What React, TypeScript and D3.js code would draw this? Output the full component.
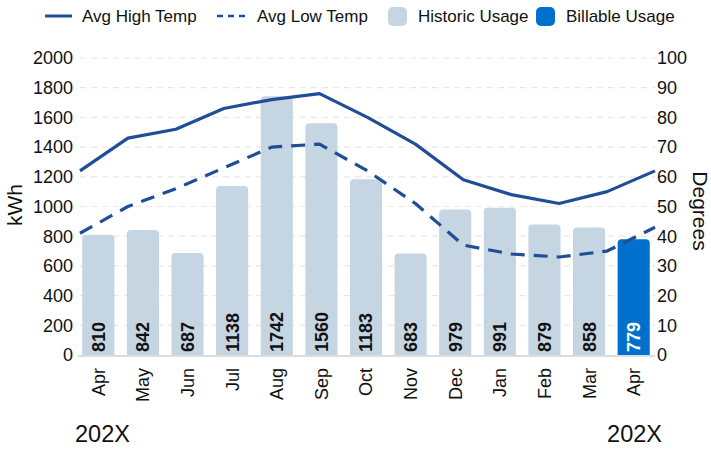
import React from 'react';
import * as d3 from 'd3';

const months = ['Apr', 'May', 'Jun', 'Jul', 'Aug', 'Sep', 'Oct', 'Nov', 'Dec', 'Jan', 'Feb', 'Mar', 'Apr'];
const usage = [810, 842, 687, 1138, 1742, 1560, 1183, 683, 979, 991, 879, 858, 779];
const highTemp = [62, 73, 76, 83, 86, 88, 80, 71, 59, 54, 51, 55, 62];
const lowTemp = [41, 50, 56, 63, 70, 71, 62, 51, 37, 34, 33, 35, 43];
const kwhTicks = [0, 200, 400, 600, 800, 1000, 1200, 1400, 1600, 1800, 2000];
const degTicks = [0, 10, 20, 30, 40, 50, 60, 70, 80, 90, 100];
const yearLabels = ['202X', '202X'];

const W = 711;
const H = 449;
const FONT = '"Liberation Sans", Arial, sans-serif';
const LINE = '#1f4e96';
const HIST = '#c6d5e2';
const BILL = '#0070cc';

// rounded top corners only
function topRoundedRect(x: number, y: number, w: number, h: number, r: number) {
  const rr = Math.min(r, h / 2, w / 2);
  return `M${x},${y + h}V${y + rr}Q${x},${y} ${x + rr},${y}H${x + w - rr}Q${x + w},${y} ${x + w},${y + rr}V${y + h}Z`;
}

const App: React.FC = () => {
  const left = 80;
  const right = 655;
  const top = 58;
  const bottom = 355;

  const yKwh = d3.scaleLinear().domain([0, 2000]).range([bottom, top]);
  const yDeg = d3.scaleLinear().domain([0, 100]).range([bottom, top]);
  const xBand = d3.scaleBand<number>()
    .domain(months.map((_, i) => i))
    .range([76, 656])
    .paddingInner(0.28)
    .paddingOuter(0.14);
  const xLine = d3.scaleLinear().domain([0, months.length - 1]).range([left, right]);

  const line = d3.line<number>()
    .x((_, i) => xLine(i))
    .y(d => yDeg(d));

  const last = usage.length - 1;

  return (
    <svg width={W} height={H} style={{ position: 'absolute', left: 0, top: 0, fontFamily: FONT }}>
      {/* gridlines */}
      {kwhTicks.slice(1).map(t => (
        <line key={t} x1={left} x2={right} y1={yKwh(t)} y2={yKwh(t)}
          stroke="#e8e8e8" strokeWidth={1.2} strokeDasharray="6,5" />
      ))}

      {/* bars */}
      {usage.map((v, i) => {
        const x = xBand(i) || 0;
        const w = xBand.bandwidth();
        const y = yKwh(v);
        return (
          <path key={i} d={topRoundedRect(x, y, w, bottom - y, 4)} fill={i === last ? BILL : HIST} />
        );
      })}

      {/* bar value labels */}
      {usage.map((v, i) => {
        const cx = (xBand(i) || 0) + xBand.bandwidth() / 2;
        const ty = bottom - 3;
        return (
          <text key={i} x={cx} y={ty} transform={`rotate(-90, ${cx}, ${ty})`}
            dy="0.36em" fontSize={18} fontWeight="bold"
            fill={i === last ? '#fff' : '#111'}>{v}</text>
        );
      })}

      {/* baseline */}
      <line x1={left - 2} x2={right} y1={bottom + 1} y2={bottom + 1} stroke="#dcdcdc" strokeWidth={2} />

      {/* temperature lines */}
      <path d={line(highTemp) || ''} fill="none" stroke={LINE} strokeWidth={3.2} strokeLinejoin="round" />
      <path d={line(lowTemp) || ''} fill="none" stroke={LINE} strokeWidth={3.2} strokeDasharray="14,9" strokeLinejoin="round" />

      {/* left axis */}
      {kwhTicks.map(t => (
        <text key={t} x={73} y={yKwh(t)} dy="0.35em" textAnchor="end" fontSize={18} fill="#111">{t}</text>
      ))}
      {/* right axis */}
      {degTicks.map(t => (
        <text key={t} x={657} y={yDeg(t)} dy="0.35em" textAnchor="start" fontSize={18} fill="#111">{t}</text>
      ))}

      {/* axis titles */}
      <text x={15} y={205} transform="rotate(-90, 15, 205)" textAnchor="middle" dy="0.35em" fontSize={21} fill="#111">kWh</text>
      <text x={700} y={211} transform="rotate(90, 700, 211)" textAnchor="middle" dy="0.35em" fontSize={21} fill="#111">Degrees</text>

      {/* month labels */}
      {months.map((m, i) => {
        const cx = (xBand(i) || 0) + xBand.bandwidth() / 2;
        const ty = 368;
        return (
          <text key={i} x={cx} y={ty} transform={`rotate(-90, ${cx}, ${ty})`}
            dy="0.36em" textAnchor="end" fontSize={18} fill="#111">{m}</text>
        );
      })}

      {/* years */}
      <text x={75} y={442} fontSize={23.5} fill="#111">{yearLabels[0]}</text>
      <text x={662} y={442} fontSize={23.5} textAnchor="end" fill="#111">{yearLabels[1]}</text>

      {/* legend */}
      <g fontSize={17} fill="#111">
        <line x1={45} x2={72} y1={16} y2={16} stroke={LINE} strokeWidth={3} />
        <text x={82} y={16} dy="0.35em">Avg High Temp</text>
        <line x1={217} x2={247} y1={16} y2={16} stroke={LINE} strokeWidth={2.5} strokeDasharray="6,5" />
        <text x={257} y={16} dy="0.35em">Avg Low Temp</text>
        <rect x={388} y={7} width={19} height={19} rx={5} fill={HIST} />
        <text x={418} y={16} dy="0.35em">Historic Usage</text>
        <rect x={536} y={7} width={19} height={19} rx={5} fill={BILL} />
        <text x={566} y={16} dy="0.35em">Billable Usage</text>
      </g>
    </svg>
  );
};

export default App;
